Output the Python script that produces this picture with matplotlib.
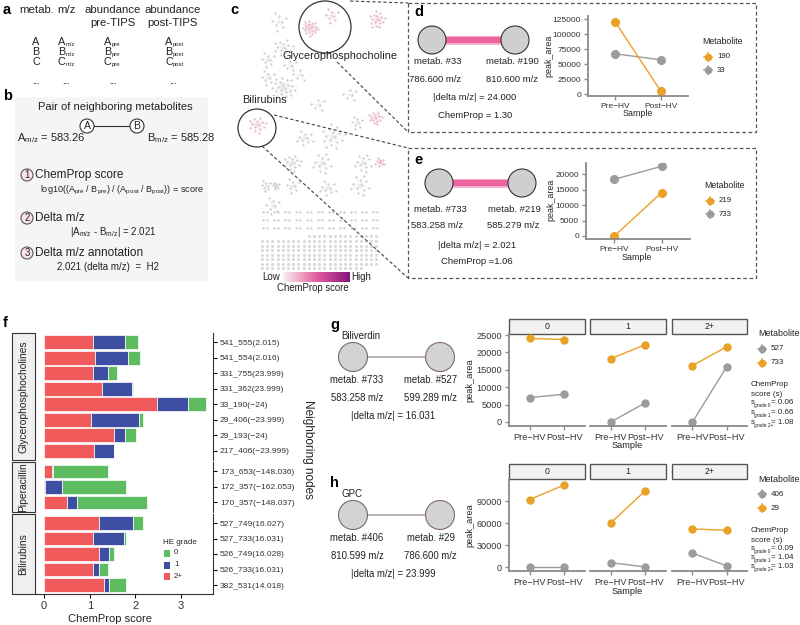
import matplotlib
matplotlib.use("Agg")
import matplotlib.pyplot as plt
import matplotlib.patches as mpatches
from matplotlib.colors import LinearSegmentedColormap
import numpy as np

W, H = 800, 625

plt.rcParams["font.family"] = ["Liberation Sans", "DejaVu Sans"]
plt.rcParams["mathtext.fontset"] = "custom"
plt.rcParams["mathtext.rm"] = "Liberation Sans"
plt.rcParams["mathtext.it"] = "Liberation Sans:italic"

ORANGE = "#E9A126"
GREY = "#9B9B9B"
RED = "#F05A5B"
BLUE = "#3E4FA3"
GREEN = "#5DBB60"
INK = "#222222"

# ---------------------------------------------------------------------------
# Data
# ---------------------------------------------------------------------------
samples = ["Pre\u2212HV", "Post\u2212HV"]

# panel d
d_met_190 = [120000, 5000]
d_met_33 = [67000, 57000]
# panel e
e_met_219 = [0, 14000]
e_met_733 = [18300, 22500]

# panel f
f_groups = ["Glycerophosphocholines", "Piperacillin", "Bilirubins"]
f_pairs = [
    ["541_555(2.015)", "541_554(2.016)", "331_755(23.999)", "331_362(23.999)",
     "33_190(\u221224)", "29_406(\u221223.999)", "29_193(\u221224)", "217_406(\u221223.999)"],
    ["173_653(\u2212148.036)", "172_357(\u2212162.053)", "170_357(\u2212148.037)"],
    ["527_749(16.027)", "527_733(16.031)", "526_749(16.028)", "526_733(16.031)",
     "382_531(14.018)"],
]
f_grade2 = [[1.07, 1.12, 1.08, 1.26, 2.47, 1.03, 1.52, 1.10],
            [0.17, 0.02, 0.50],
            [1.20, 1.08, 1.20, 1.08, 1.31]]
f_grade1 = [[0.71, 0.71, 0.32, 0.67, 0.68, 1.04, 0.25, 0.42],
            [0.02, 0.38, 0.22],
            [0.74, 0.66, 0.23, 0.13, 0.11]]
f_grade0 = [[0.27, 0.27, 0.20, 0.01, 0.40, 0.09, 0.24, 0.02],
            [1.22, 1.40, 1.54],
            [0.22, 0.05, 0.10, 0.18, 0.38]]

# panels g / h
grades = ["0", "1", "2+"]
g_met_733 = [[24000, 23700], [18200, 22200], [16200, 21600]]
g_met_527 = [[7000, 8000], [0, 5500], [0, 15800]]
g_scores = ["0.06", "0.66", "1.08"]
h_met_29 = [[92000, 112000], [60000, 104000], [52000, 50000]]
h_met_406 = [[0, 0], [6000, 0], [19000, 1500]]
h_scores = ["0.09", "1.04", "1.03"]

# panel c: molecular network clusters (centre x, centre y, nodes, radius, highlighted)
net_cx = [279, 310, 332, 377, 283, 268, 290, 283, 268, 257, 375, 357, 333, 305,
          292, 322, 363, 380, 266, 276, 293, 328, 360, 273, 318, 350, 300]
net_cy = [22, 28, 16, 20, 48, 60, 66, 88, 78, 125, 118, 123, 137, 138,
          163, 163, 163, 162, 186, 186, 186, 188, 185, 206, 105, 95, 75]
net_n = [8, 22, 8, 16, 14, 8, 6, 22, 8, 14, 14, 8, 16, 10,
         14, 12, 12, 10, 8, 8, 8, 10, 12, 8, 6, 6, 5]
net_r = [10, 8, 8, 9, 10, 8, 7, 12, 8, 9, 7, 7, 13, 9,
         9, 11, 10, 5, 6, 4, 8, 9, 11, 9, 8, 8, 7]
net_hi = [0, 1, 1, 1, 0, 0, 0, 0, 0, 1, 1, 0, 0, 0,
          0, 0, 0, 1, 0, 0, 0, 0, 0, 0, 0, 0, 0]
pair_rows = [212, 220, 228]
pair_cols = [265, 276, 287, 298, 309, 320, 331, 342, 353, 364, 375]
single_rows = [236, 241, 245.5, 250, 254.5, 259, 263.5, 268]
single_cols = [262 + 5.2 * k for k in range(23)]

# ---------------------------------------------------------------------------
# Figure scaffolding (overlay axes in pixel units)
# ---------------------------------------------------------------------------
fig = plt.figure(figsize=(8, 6.25), dpi=100)
ov = fig.add_axes([0, 0, 1, 1])
ov.set_xlim(0, W)
ov.set_ylim(H, 0)
ov.axis("off")


def px_axes(x0, y0, x1, y1):
    ax = fig.add_axes([x0 / W, 1 - y1 / H, (x1 - x0) / W, (y1 - y0) / H])
    ax.set_facecolor("none")
    return ax


def txt(x, y, s, size=9, ha="center", **kw):
    kw.setdefault("color", INK)
    ov.text(x, y, s, fontsize=size, ha=ha, va="center", **kw)


def label(x, y, s):
    txt(x, y, s, 10.5, ha="left", weight="bold", color="black")


def node(x, y, r, fc="#cfcfcf", ec="#333333", lw=0.8):
    ov.add_patch(mpatches.Circle((x, y), r, facecolor=fc, edgecolor=ec, lw=lw, zorder=3))


def legend_key(x, y, color):
    ov.plot([x - 4, x + 4], [y, y], color=color, lw=1.1)
    ov.plot([x, x], [y - 4, y + 4], color=color, lw=1.1)
    ov.plot(x, y, "o", color=color, ms=4.5)


def style_line_axes(ax, yticks, show_y=True, size=6):
    for sp in ("top", "right"):
        ax.spines[sp].set_visible(False)
    ax.spines["bottom"].set_color("#8a8a8a")
    ax.spines["bottom"].set_linewidth(1.3)
    if show_y:
        ax.spines["left"].set_color("#8a8a8a")
        ax.spines["left"].set_linewidth(1.3)
        ax.set_yticks(yticks)
        ax.set_yticklabels([str(v) for v in yticks])
    else:
        ax.spines["left"].set_visible(False)
        ax.set_yticks([])
    ax.set_xticks([0, 1])
    ax.set_xticklabels(samples)
    ax.tick_params(colors="#8a8a8a", labelcolor="#333333", labelsize=size,
                   length=3, width=1, pad=2)
    ax.set_xlim(-0.6, 1.6)


# ---------------------------------------------------------------------------
# a
# ---------------------------------------------------------------------------
label(3, 10, "a")
txt(37, 10, "metab.", 8.2)
txt(66, 10, "m/z", 8.2)
txt(113, 10, "abundance", 8.2)
txt(113, 23, "pre-TIPS", 8.2)
txt(173, 10, "abundance", 8.2)
txt(173, 23, "post-TIPS", 8.2)
for L, y in zip(["A", "B", "C"], [42, 52, 62]):
    txt(36, y, L, 7.8)
    for x0, sub in zip((58, 104, 165), ("m/z", "pre", "post")):
        txt(x0, y, L, 7.8, ha="left")
        txt(x0 + 7.5, y + 2.5, sub, 4.2, ha="left")
for x in (36, 66, 113, 173):
    txt(x, 81, "...", 6.5)

# ---------------------------------------------------------------------------
# b
# ---------------------------------------------------------------------------
ov.add_patch(mpatches.Rectangle((15, 97), 193, 184, facecolor="#f5f5f5", edgecolor="none"))
label(3, 96, "b")
txt(115, 107, "Pair of neighboring metabolites", 8)
ov.plot([94, 130], [126, 126], color="#333333", lw=0.8)
node(87, 126, 7, fc="white")
node(137, 126, 7, fc="white")
txt(87, 126, "A", 7.5)
txt(137, 126, "B", 7.5)
txt(17, 138, r"A$_{\mathrm{m/z}}$ = 583.26", 8, ha="left")
txt(147, 138, r"B$_{\mathrm{m/z}}$ = 585.28", 8, ha="left")
for num, y in zip(["1", "2", "3"], [175, 218, 253]):
    node(27, y, 6, fc="#fbe3ec", ec="#555555")
    txt(27, y, num, 7)
txt(35, 175, "ChemProp score", 8.5, ha="left")
txt(40, 190, r"log10((A$_{\mathrm{pre}}$ / B$_{\mathrm{pre}}$) / (A$_{\mathrm{post}}$ / B$_{\mathrm{post}}$)) = score",
    6.5, ha="left")
txt(35, 218, "Delta m/z", 8.5, ha="left")
txt(70, 232, r"|A$_{\mathrm{m/z}}$ - B$_{\mathrm{m/z}}$| = 2.021", 7, ha="left")
txt(35, 253, "Delta m/z annotation", 8.5, ha="left")
txt(57, 267, "2.021 (delta m/z)  =  H2", 7, ha="left")

# ---------------------------------------------------------------------------
# c  (network)
# ---------------------------------------------------------------------------
label(230, 10, "c")
golden = np.pi * (3 - np.sqrt(5))
for cx, cy, n, r, hi in zip(net_cx, net_cy, net_n, net_r, net_hi):
    k = np.arange(n)
    rad = r * np.sqrt((k + 0.5) / n)
    xs = cx + rad * np.cos(k * golden)
    ys = cy + rad * np.sin(k * golden)
    for x, y in zip(xs, ys):
        ov.plot([cx, x], [cy, y], color="#f1d3df" if hi else "#e9e4e6", lw=0.35, zorder=1)
    ov.scatter(xs, ys, s=2.5, color="#eab6cb" if hi else "#cbcbcb", lw=0, zorder=2)
for y in pair_rows:
    for x in pair_cols:
        ov.plot([x - 2, x + 2], [y, y], color="#e6dce0", lw=0.35, zorder=1)
        ov.scatter([x - 2, x + 2], [y, y], s=2.5, color="#cbcbcb", lw=0, zorder=2)
for i, y in enumerate(single_rows):
    cols = single_cols[9:] if i == 0 else (single_cols[:-3] if i == len(single_rows) - 1 else single_cols)
    ov.scatter(cols, [y] * len(cols), s=3, facecolor="#dcdcdc", edgecolor="#b8b8b8", lw=0.2, zorder=2)

ov.add_patch(mpatches.Circle((325, 27), 26, fill=False, ec="#333333", lw=0.9, zorder=4))
ov.add_patch(mpatches.Circle((257, 128), 19, fill=False, ec="#333333", lw=0.9, zorder=4))
txt(340, 56, "Glycerophosphocholine", 7.8, zorder=5)
txt(264, 100, "Bilirubins", 7.8, zorder=5)

dash = dict(color="#444444", lw=0.8, ls=(0, (3, 2)), zorder=4)
ov.plot([350, 408], [1, 3], **dash)
ov.plot([337, 408], [62, 132], **dash)
ov.plot([274, 408], [115, 148], **dash)
ov.plot([262, 408], [146, 278], **dash)

cmap = LinearSegmentedColormap.from_list("chem", ["#fbeef3", "#e35e9e", "#86157d"])
ov.imshow(np.linspace(0, 1, 200)[None, :], cmap=cmap, extent=(283, 350, 282, 272),
          aspect="auto", zorder=3)
ov.set_xlim(0, W)
ov.set_ylim(H, 0)
txt(262, 277, "Low", 7, ha="left")
txt(351, 277, "High", 7, ha="left")
txt(313, 288, "ChemProp score", 6.9)

# ---------------------------------------------------------------------------
# d / e  (pair diagrams and line plots)
# ---------------------------------------------------------------------------
for y0, y1 in ((3, 132), (148, 278)):
    ov.add_patch(mpatches.Rectangle((408, y0), 348, y1 - y0, fill=False, ec="#555555",
                                    lw=0.9, ls=(0, (3, 2))))

label(414, 12, "d")
ov.plot([445, 502], [40, 40], color="#f6b7d0", lw=6.5, solid_capstyle="butt", zorder=2)
ov.plot([445, 502], [40, 40], color="#EC64A0", lw=4.5, solid_capstyle="butt", zorder=2)
node(432, 40, 14)
node(515, 40, 14)
txt(438, 62, "metab. #33", 6.8)
txt(512, 62, "metab. #190", 6.8)
txt(435, 79, "786.600 m/z", 6.8)
txt(512, 79, "810.600 m/z", 6.8)
txt(475, 98, "|delta m/z| = 24.000", 6.8)
txt(475, 115, "ChemProp = 1.30", 6.8)

ax_d = px_axes(588, 16, 688, 96)
ax_d.plot([0, 1], d_met_33, "-o", color=GREY, lw=1, ms=5.5)
ax_d.plot([0, 1], d_met_190, "-o", color=ORANGE, lw=1, ms=5.5)
ax_d.set_ylim(-3300, 130000)
style_line_axes(ax_d, [0, 25000, 50000, 75000, 100000, 125000])
txt(549, 56, "peak_area", 6.4, rotation=90)
txt(638, 113, "Sample", 6.4)
txt(702, 42, "Metabolite", 6.3, ha="left")
legend_key(708, 57, ORANGE)
txt(717, 57, "190", 5.6, ha="left")
legend_key(708, 70, GREY)
txt(717, 70, "33", 5.6, ha="left")

label(414, 160, "e")
ov.plot([452, 508], [183, 183], color="#f6b7d0", lw=6.5, solid_capstyle="butt", zorder=2)
ov.plot([452, 508], [183, 183], color="#EC64A0", lw=4.5, solid_capstyle="butt", zorder=2)
node(439, 183, 14)
node(522, 183, 14)
txt(440, 209, "metab. #733", 6.8)
txt(514, 209, "metab. #219", 6.8)
txt(437, 226, "583.258 m/z", 6.8)
txt(513, 226, "585.279 m/z", 6.8)
txt(477, 245, "|delta m/z| = 2.021", 6.8)
txt(477, 262, "ChemProp =1.06", 6.8)

ax_e = px_axes(586, 163, 690, 239)
ax_e.plot([0, 1], e_met_733, "-o", color=GREY, lw=1, ms=5.5)
ax_e.plot([0, 1], e_met_219, "-o", color=ORANGE, lw=1, ms=5.5)
ax_e.set_ylim(-968, 23550)
style_line_axes(ax_e, [0, 5000, 10000, 15000, 20000])
txt(551, 200, "peak_area", 6.4, rotation=90)
txt(637, 257, "Sample", 6.4)
txt(704, 186, "Metabolite", 6.3, ha="left")
legend_key(710, 201, ORANGE)
txt(719, 201, "219", 5.6, ha="left")
legend_key(710, 214, GREY)
txt(719, 214, "733", 5.6, ha="left")

# ---------------------------------------------------------------------------
# f  (stacked bars)
# ---------------------------------------------------------------------------
label(3, 323, "f")
unit = 15.5
y_top = 333
for gi, (grp, labels) in enumerate(zip(f_groups, f_pairs)):
    n = len(labels)
    y_bot = y_top + (n + 0.2) * unit
    ax = px_axes(35, y_top, 213, y_bot)
    pos = np.arange(n)
    g2 = np.array(f_grade2[gi])
    g1 = np.array(f_grade1[gi])
    g0 = np.array(f_grade0[gi])
    kw = dict(height=0.88, edgecolor="white", linewidth=0.5)
    ax.barh(pos, g2, color=RED, **kw)
    ax.barh(pos, g1, left=g2, color=BLUE, **kw)
    ax.barh(pos, g0, left=g2 + g1, color=GREEN, **kw)
    ax.set_ylim(n - 0.4, -0.6)
    ax.set_xlim(-0.2, 3.7)
    ax.yaxis.tick_right()
    ax.set_yticks(pos)
    ax.set_yticklabels(labels)
    ax.tick_params(axis="y", labelsize=6.1, labelcolor="#333333", length=3, width=0.8, pad=2)
    for sp in ("top", "left"):
        ax.spines[sp].set_visible(False)
    ax.spines["right"].set_linewidth(0.8)
    ax.spines["right"].set_color("#333333")
    if gi < 2:
        ax.spines["bottom"].set_visible(False)
        ax.set_xticks([])
    else:
        ax.spines["bottom"].set_linewidth(0.8)
        ax.spines["bottom"].set_color("#333333")
        ax.set_xticks([0, 1, 2, 3])
        ax.tick_params(axis="x", labelsize=8, labelcolor="#333333", length=3, width=0.8, pad=2)
    ov.add_patch(mpatches.Rectangle((12, y_top), 23, y_bot - y_top, facecolor="#f0f0f0",
                                    edgecolor="#333333", lw=0.8))
    txt(23.5, (y_top + y_bot) / 2, grp, 7.4, rotation=90)
    y_top = y_bot + 2

txt(308, 450, "Neighboring nodes", 8.5, rotation=-90)
txt(110, 619, "ChemProp score", 8)
txt(163, 542, "HE grade", 5.8, ha="left")
for col, lab, y in zip([GREEN, BLUE, RED], ["0", "1", "2+"], [553, 565, 576]):
    ov.add_patch(mpatches.Rectangle((164, y - 3.5), 6, 7, facecolor=col, edgecolor="none"))
    txt(174, y, lab, 5.6, ha="left")

# ---------------------------------------------------------------------------
# g / h  (pair diagrams and faceted line plots)
# ---------------------------------------------------------------------------
facet_x = [(509, 585), (590, 666), (672, 747)]


def pair_panel(letter, name, y0, ids, mzs, delta):
    label(330, y0, letter)
    txt(341, y0 + 11, name, 7, ha="left")
    yc = y0 + 32
    ov.plot([367, 426], [yc, yc], color="#aa9c98", lw=1.1, zorder=2)
    node(353, yc, 14.5, fc="#d3d3d3", ec="#7d6a63")
    node(440, yc, 14.5, fc="#d3d3d3", ec="#7d6a63")
    txt(357, yc + 23, ids[0], 6.9)
    txt(431, yc + 23, ids[1], 6.9)
    txt(357, yc + 41, mzs[0], 6.9)
    txt(430, yc + 41, mzs[1], 6.9)
    txt(393, yc + 59, delta, 6.9)


def facet_panel(y_strip, y_bot, ylim, yticks, orange_vals, grey_vals, leg_labels, scores):
    y_panel = y_strip + 15
    for i, ((x0, x1), grade) in enumerate(zip(facet_x, grades)):
        ov.add_patch(mpatches.Rectangle((x0, y_strip), x1 - x0, 15, facecolor="#f2f2f2",
                                        edgecolor="#555555", lw=1))
        txt((x0 + x1) / 2, y_strip + 7.5, grade, 6.3)
        ax = px_axes(x0, y_panel, x1, y_bot)
        ax.plot([0, 1], grey_vals[i], "-o", color=GREY, lw=1, ms=5)
        ax.plot([0, 1], orange_vals[i], "-o", color=ORANGE, lw=1, ms=5)
        ax.set_ylim(*ylim)
        style_line_axes(ax, yticks, show_y=(i == 0), size=6.6)
    txt(470, (y_panel + y_bot) / 2, "peak_area", 6.6, rotation=90)
    txt(627, y_bot + 20, "Sample", 6.6)
    txt(758, y_strip + 15, "Metabolite", 6.4, ha="left")
    legend_key(762, y_strip + 30, GREY)
    txt(771, y_strip + 30, leg_labels[0], 5.8, ha="left")
    legend_key(762, y_strip + 44, ORANGE)
    txt(771, y_strip + 44, leg_labels[1], 5.8, ha="left")
    ys = y_strip + 66
    txt(751, ys, "ChemProp", 5.8, ha="left")
    txt(751, ys + 10, "score (s)", 5.8, ha="left")
    for k, (grade, sc) in enumerate(zip(grades, scores)):
        yy = ys + 19 + 9.5 * k
        txt(751, yy - 1, "s", 5.8, ha="left")
        txt(754.5, yy + 2, "grade " + grade, 3.4, ha="left")
        txt(771, yy - 1, "= " + sc, 5.8, ha="left")


pair_panel("g", "Biliverdin", 325, ["metab. #733", "metab. #527"],
           ["583.258 m/z", "599.289 m/z"], "|delta m/z| = 16.031")
facet_panel(319, 426, (-1150, 25290), [0, 5000, 10000, 15000, 20000, 25000],
            g_met_733, g_met_527, ["527", "733"], g_scores)

pair_panel("h", "GPC", 483, ["metab. #406", "metab. #29"],
           ["810.599 m/z", "786.600 m/z"], "|delta m/z| = 23.999")
facet_panel(464, 571, (-5450, 120000), [0, 30000, 60000, 90000],
            h_met_29, h_met_406, ["406", "29"], h_scores)

fig.savefig("out.png", dpi=100, facecolor="white")
